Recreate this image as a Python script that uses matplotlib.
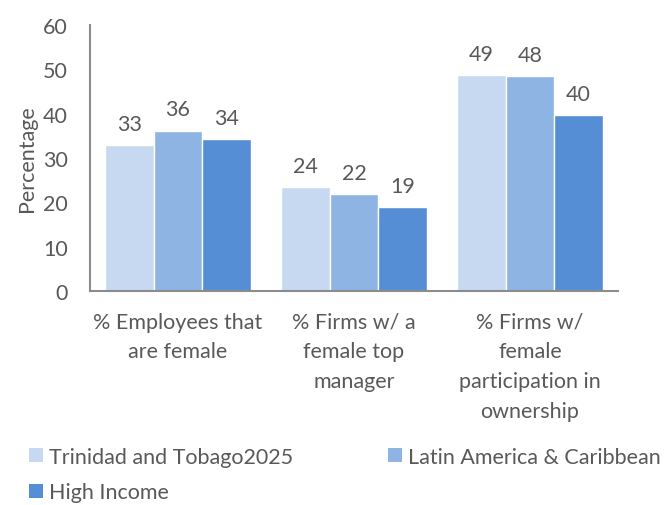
import numpy as np
import matplotlib
matplotlib.use("Agg")
import matplotlib.pyplot as plt
from matplotlib.patches import Patch

# categories and series values
categories = ["% Employees that\nare female",
              "% Firms w/ a\nfemale top\nmanager",
              "% Firms w/\nfemale\nparticipation in\nownership"]
series_names = ["Trinidad and Tobago2025", "Latin America & Caribbean", "High Income"]
trinidad = [32.9, 23.5, 48.8]
latam = [36.2, 21.8, 48.4]
high_income = [34.2, 19.0, 39.7]
yticks = [0, 10, 20, 30, 40, 50, 60]

colors = ["#C6D9F1", "#8EB4E3", "#558ED5"]
text_col = "#595959"
axis_col = "#8C8C8C"

plt.rcParams['font.family'] = ['Lato', 'DejaVu Sans']
fs = 15.5

fig = plt.figure(figsize=(6.67, 5.06), dpi=100)
ax = fig.add_axes([90/667, 1 - 292/506, 528/667, 266/506])

x = np.arange(len(categories))
w = 0.275
for k, vals in enumerate([trinidad, latam, high_income]):
    bars = ax.bar(x + (k - 1) * w, vals, width=w, color=colors[k],
                  edgecolor="white", linewidth=1.0, label=series_names[k])
    for b, v in zip(bars, vals):
        ax.annotate(f"{v:.0f}", (b.get_x() + b.get_width() / 2, v),
                    xytext=(0, 8), textcoords="offset points",
                    ha="center", va="bottom", fontsize=fs, color=text_col)

ax.set_xlim(-0.5, 2.5)
ax.set_ylim(0, 60)
ax.set_yticks(yticks)
ax.set_xticks(x)
ax.set_xticklabels(categories, linespacing=1.6)
ax.tick_params(axis="both", length=0, labelsize=fs, labelcolor=text_col)
ax.tick_params(axis="y", pad=16)
ax.tick_params(axis="x", pad=15)
ax.set_ylabel("Percentage", fontsize=fs, color=text_col, labelpad=4)

for s in ["top", "right"]:
    ax.spines[s].set_visible(False)
for s in ["left", "bottom"]:
    ax.spines[s].set_color(axis_col)
    ax.spines[s].set_linewidth(1.5)

# legend filled row by row: order handles so columns read T/H and L
order = [0, 2, 1]
handles = [Patch(facecolor=colors[i], edgecolor="none") for i in order]
labels = [series_names[i] for i in order]
fig.legend(handles, labels, loc="upper left", bbox_to_anchor=(0.03, 0.132),
           ncol=2, frameon=False, fontsize=fs, labelcolor=text_col,
           handlelength=0.65, handleheight=0.65, handletextpad=0.3,
           columnspacing=4.4, borderaxespad=0, labelspacing=0.72)

fig.savefig("out.png", dpi=100)
